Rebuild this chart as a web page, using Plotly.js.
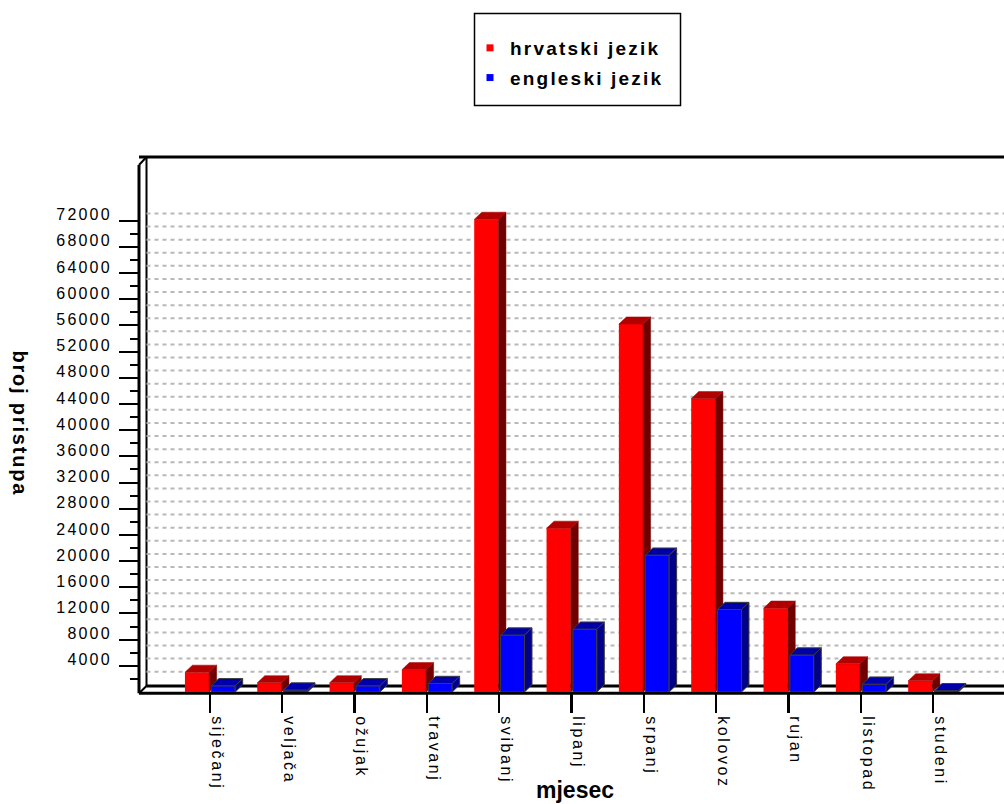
<!DOCTYPE html>
<html><head><meta charset="utf-8">
<script src="https://cdn.plot.ly/plotly-3.0.1.min.js"></script>
<style>
html,body{margin:0;padding:0;background:#fff}
#chart{width:1004px;height:804px}
.xtick text{letter-spacing:2.6px}
.ytick text{letter-spacing:2.2px}
.legendtext{letter-spacing:2.2px}
</style></head><body><div id="chart"></div>
<script>
// ---- data ----
const months = ['siječanj','veljača','ožujak','travanj','svibanj','lipanj','srpanj','kolovoz','rujan','listopad','studeni'];
const hrvatski = [3000, 1400, 1400, 3400, 72200, 25000, 56200, 44800, 12800, 4300, 1700];
const engleski = [950, 300, 950, 1300, 8700, 9600, 20900, 12600, 5650, 1200, 200];
const yTickVals = [4000,8000,12000,16000,20000,24000,28000,32000,36000,40000,44000,48000,52000,56000,60000,64000,68000,72000];
const yTickText = ['4000','8000','12000','16000','20000','24000','28000','32000','36000','40000','44000','48000','52000','56000','60000','64000','68000','72000'];
const yMinorVals = [2000,6000,10000,14000,18000,22000,26000,30000,34000,38000,42000,46000,50000,54000,58000,62000,66000,70000];
const gridVals = [2000,4000,6000,8000,10000,12000,14000,16000,18000,20000,22000,24000,26000,28000,30000,32000,34000,36000,38000,40000,42000,44000,46000,48000,50000,52000,54000,56000,58000,60000,62000,64000,66000,68000,70000,72000];
const seriesNames = ['hrvatski jezik','engleski jezik'];

// ---- geometry (pixels) ----
const W=1004, H=804, L=139, T=157, BOT=692;
const PW = W - L, PH = BOT - T;
const XR = [-0.98, 10.98];
const YMAX = PH / 6.546 * 1000;
const pxPerX = PW / (XR[1]-XR[0]);
const pxPerY = PH / YMAX;
const DX = 7.5 / pxPerX, DY = 7.2 / pxPerY;
const px = x => (x - L) / PW;
const py = y => (BOT - y) / PH;

const idx = months.map((m,i)=>i);

function faces(vals, off, w){
  const top={x:[],y:[]}, side={x:[],y:[]};
  vals.forEach((v,i)=>{
    const x0=i+off, x1=x0+w;
    top.x.push(x0,x1,x1+DX,x0+DX,x0,null); top.y.push(v,v,v+DY,v+DY,v,null);
    side.x.push(x1,x1,x1+DX,x1+DX,x1,null); side.y.push(0,v,v+DY,DY,0,null);
  });
  return {top,side};
}

const RED_OFF=-0.345, RED_W=0.335, BLUE_OFF=0.02, BLUE_W=0.33;
const rf = faces(hrvatski, RED_OFF, RED_W);
const bf = faces(engleski, BLUE_OFF, BLUE_W);

const traces = [
  {type:'bar', x:idx, y:hrvatski, offset:RED_OFF, width:RED_W, marker:{color:'#ff0000', line:{width:0}}, showlegend:false, hoverinfo:'skip', xaxis:'x', yaxis:'y'},
  {type:'scatter', x:rf.side.x, y:rf.side.y, mode:'lines', fill:'toself', fillcolor:'#700000', line:{color:'#700000', width:0.5}, showlegend:false, hoverinfo:'skip', xaxis:'x', yaxis:'y'},
  {type:'scatter', x:rf.top.x, y:rf.top.y, mode:'lines', fill:'toself', fillcolor:'#b00000', line:{color:'#b00000', width:0.5}, showlegend:false, hoverinfo:'skip', xaxis:'x', yaxis:'y'},
  {type:'bar', x:idx, y:engleski, offset:BLUE_OFF, width:BLUE_W, marker:{color:'#0000ff', line:{width:1, color:'#3c3c3c'}}, showlegend:false, hoverinfo:'skip', xaxis:'x2', yaxis:'y2'},
  {type:'scatter', x:bf.side.x, y:bf.side.y, mode:'lines', fill:'toself', fillcolor:'#000088', line:{color:'#3c3c3c', width:1}, showlegend:false, hoverinfo:'skip', xaxis:'x2', yaxis:'y2'},
  {type:'scatter', x:bf.top.x, y:bf.top.y, mode:'lines', fill:'toself', fillcolor:'#0000aa', line:{color:'#3c3c3c', width:1}, showlegend:false, hoverinfo:'skip', xaxis:'x2', yaxis:'y2'},
  {type:'scatter', x:[null], y:[null], mode:'markers', marker:{symbol:'square', size:7, color:'#ff0000'}, name:seriesNames[0], legendgroup:'a', xaxis:'x', yaxis:'y'},
  {type:'scatter', x:[null], y:[null], mode:'markers', marker:{symbol:'square', size:7, color:'#0000ff'}, name:seriesNames[1], legendgroup:'b', xaxis:'x', yaxis:'y'}
];

const shapes = [];
gridVals.forEach(v=>shapes.push({type:'line', xref:'x', yref:'y', x0:XR[0]+DX, x1:XR[1]+1, y0:v+DY, y1:v+DY, line:{color:'#b8b8b8', width:2, dash:'4px,4px'}, layer:'below'}));
const blk = (x0,y0,x1,y1,w,layer)=>({type:'line', xref:'paper', yref:'paper', x0:px(x0), y0:py(y0), x1:px(x1), y1:py(y1), line:{color:'#000', width:w}, layer:layer||'above'});
shapes.push(blk(146.5,686,1004,686,3,'below'));
shapes.push(blk(139,693.3,1004,693.3,3,'below'));
shapes.push(blk(146.5,157,146.5,686,2,'below'));
shapes.push(blk(139,157,1004,157,3,'above'));
shapes.push(blk(139,165,139,693.3,3,'above'));
shapes.push(blk(139,165,146.5,157,2,'above'));
shapes.push(blk(139,693.3,146.5,686,2,'above'));
// legend box
shapes.push({type:'rect', xref:'paper', yref:'paper', x0:px(474.5), x1:px(680.5), y0:py(105.5), y1:py(13.5), line:{color:'#000', width:1.5}, fillcolor:'rgba(0,0,0,0)'});

const font = 'Liberation Sans, Arial, sans-serif';
const layout = {
  width:W, height:H,
  margin:{l:L, r:0, t:T, b:H-BOT, pad:0},
  paper_bgcolor:'#fff', plot_bgcolor:'rgba(0,0,0,0)',
  barmode:'overlay',
  showlegend:true,
  legend:{x:px(470), y:py(29), xanchor:'left', yanchor:'top', bgcolor:'rgba(0,0,0,0)', borderwidth:0,
          font:{family:font, size:19, weight:'bold', color:'#000'}, tracegroupgap:2, itemwidth:30},
  xaxis:{range:XR, tickmode:'array', tickvals:idx, ticktext:months, tickangle:90, ticks:'outside', ticklen:20, tickwidth:2.5, tickcolor:'#000',
         showgrid:false, zeroline:false, showline:false, ticklabelshift:7, ticklabelstandoff:0,
         tickfont:{family:font, size:16, color:'#000'}},
  yaxis:{range:[0,YMAX], tickmode:'array', tickvals:yTickVals, ticktext:yTickText, ticks:'outside', ticklen:19, tickwidth:2, tickcolor:'#000',
         minor:{tickmode:'array', tickvals:yMinorVals, ticks:'outside', ticklen:8, tickwidth:2, tickcolor:'#000', showgrid:false},
         showgrid:false, zeroline:false, showline:false, ticklabelshift:-6, ticklabelstandoff:4,
         tickfont:{family:font, size:16, color:'#000'}},
  xaxis2:{range:XR, overlaying:'x', visible:false},
  yaxis2:{range:[0,YMAX], overlaying:'y', visible:false},
  shapes:shapes,
  annotations:[
    {xref:'paper', yref:'paper', x:px(575), y:py(805), xanchor:'center', yanchor:'bottom', showarrow:false,
     text:'<b>mjesec</b>', font:{family:font, size:23, color:'#000'}},
    {xref:'paper', yref:'paper', x:px(20), y:py(423.5), xanchor:'center', yanchor:'middle', showarrow:false, textangle:90,
     text:'<b><span style="letter-spacing:1.8px">broj pristupa</span></b>', font:{family:font, size:20, color:'#000'}}
  ]
};
Plotly.newPlot('chart', traces, layout, {staticPlot:true, displayModeBar:false});
</script></body></html>
